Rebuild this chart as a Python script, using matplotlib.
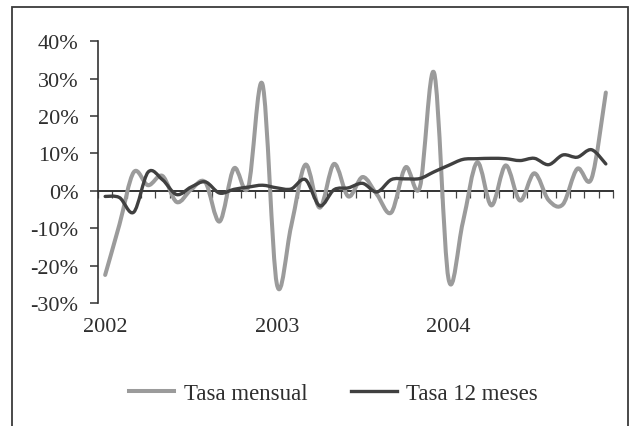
import matplotlib
matplotlib.use("Agg")
import matplotlib.pyplot as plt
from matplotlib.path import Path
from matplotlib.patches import PathPatch, Rectangle
from matplotlib.lines import Line2D
from matplotlib.transforms import blended_transform_factory
import numpy as np

# ---- data (monthly, Jan 2002 - Dec 2004), percent ----
year_labels = ["2002", "2003", "2004"]
year_label_pos = [0, 12, 24]
tasa_mensual = [-22.5, -9.0, 5.0, 1.5, 4.0, -3.0, 0.3, 2.3, -8.2, 6.0, 1.0, 28.5,
                -24.9, -9.5, 7.0, -4.5, 7.2, -1.5, 3.7, -1.0, -5.8, 6.3, 1.0, 31.5,
                -23.5, -8.5, 7.6, -3.9, 6.8, -2.6, 4.7, -2.5, -3.6, 5.9, 3.3, 26.3]
tasa_12_meses = [-1.5, -1.8, -5.7, 5.0, 3.0, -1.0, 1.0, 2.4, -0.6, 0.4, 1.0, 1.5,
                 0.8, 0.5, 3.0, -4.0, 0.3, 0.8, 2.0, -0.3, 3.0, 3.2, 3.3, 5.1,
                 6.8, 8.4, 8.6, 8.7, 8.6, 8.1, 8.7, 7.0, 9.6, 9.0, 11.0, 7.2]
y_ticks = [-30, -20, -10, 0, 10, 20, 30, 40]
series_names = ["Tasa mensual", "Tasa 12 meses"]

FONT = ["Liberation Serif", "DejaVu Serif"]
TXT = "#2e2e2e"
C_MENS = "#9b9b9b"
C_12 = "#404040"


def smooth_path(xs, ys):
    """Excel-like smoothed line: cubic Bezier segments (Catmull-Rom)."""
    p = np.column_stack([xs, ys]).astype(float)
    n = len(p)
    verts = [p[0]]
    codes = [Path.MOVETO]
    for i in range(n - 1):
        p0 = p[i - 1] if i > 0 else p[i]
        p1 = p[i]
        p2 = p[i + 1]
        p3 = p[i + 2] if i + 2 < n else p[i + 1]
        c1 = p1 + (p2 - p0) / 6.0
        c2 = p2 - (p3 - p1) / 6.0
        verts += [c1, c2, p2]
        codes += [Path.CURVE4] * 3
    return Path(verts, codes)


W, H = 632, 427
fig = plt.figure(figsize=(W / 100, H / 100), dpi=100)
fig.patch.set_facecolor("white")

ax = fig.add_axes([98 / W, 1 - 304 / H, (613 - 98) / W, (304 - 42.3) / H])
x = np.arange(len(tasa_mensual))
ax.set_xlim(-0.5, len(x) - 0.5)
ax.set_ylim(-30, 40)

for vals, col, lw, z in [(tasa_mensual, C_MENS, 2.9, 3), (tasa_12_meses, C_12, 2.4, 4)]:
    patch = PathPatch(smooth_path(x, vals), facecolor="none", edgecolor=col,
                      lw=lw, capstyle="round", joinstyle="round", zorder=z)
    ax.add_patch(patch)

# spines
for s in ["top", "right"]:
    ax.spines[s].set_visible(False)
ax.spines["left"].set_color("#333333")
ax.spines["left"].set_linewidth(1.2)
ax.spines["bottom"].set_position(("data", 0))
ax.spines["bottom"].set_color("#333333")
ax.spines["bottom"].set_linewidth(1.4)
ax.spines["bottom"].set_zorder(2)

ax.set_yticks(y_ticks)
ax.set_yticklabels([f"{v}%" for v in y_ticks], fontfamily=FONT, fontsize=16, color=TXT)
ax.tick_params(axis="y", direction="out", length=6, width=1.1, color="#333333", pad=8)

ax.set_xticks(np.arange(-0.5, len(x) + 0.5, 1.0))
ax.set_xticklabels([])
ax.tick_params(axis="x", direction="out", length=5, width=0.9, color="#444444")

trans = blended_transform_factory(ax.transData, ax.transAxes)
for pos, lab in zip(year_label_pos, year_labels):
    ax.text(pos, -0.055, lab, transform=trans, ha="center", va="top",
            fontfamily=FONT, fontsize=16, color=TXT)

# legend
handles = [Line2D([], [], color=C_MENS, lw=2.9),
           Line2D([], [], color=C_12, lw=2.4)]
leg = fig.legend(handles, series_names, loc="center", bbox_to_anchor=(333 / W, 1 - 394 / H),
                 ncol=2, frameon=False, handlelength=2.0, handletextpad=0.4,
                 columnspacing=1.9, prop={"family": FONT, "size": 16.5})
for t in leg.get_texts():
    t.set_color(TXT)

# chart-area border
fig.add_artist(Rectangle((12 / W, -0.05), (628 - 12) / W, 1.05 - 8 / H,
                         transform=fig.transFigure, fill=False,
                         edgecolor="#3a3a3a", lw=1.3))

fig.savefig("out.png", dpi=100, facecolor="white")
